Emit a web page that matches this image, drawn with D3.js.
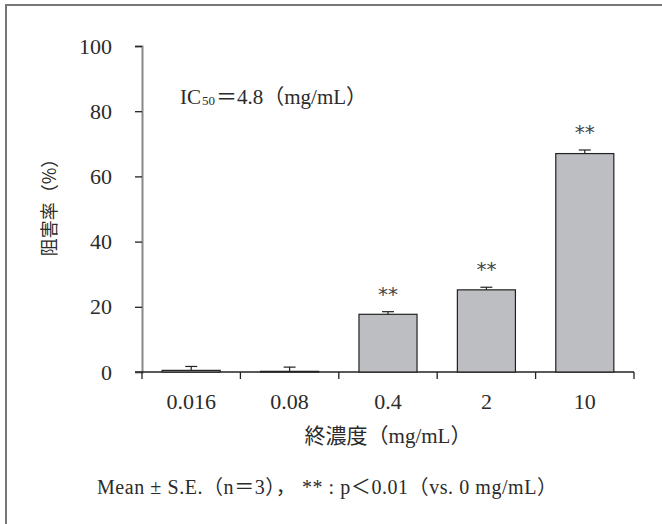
<!DOCTYPE html>
<html>
<head>
<meta charset="utf-8">
<script src="https://cdn.jsdelivr.net/npm/d3@7"></script>
<style>
  body { margin: 0; background: #fff; }
</style>
</head>
<body>
<svg id="chart" width="662" height="524"></svg>
<script>
// concentrations (mg/mL), mean inhibition (%), standard error
const concs = ["0.016", "0.08", "0.4", "2", "10"];
const means = [0.5, 0.2, 17.7, 25.2, 67.0];
const errors = [1.2, 1.3, 0.8, 0.8, 1.1];
const signif = ["", "", "**", "**", "**"];
const yTicks = [0, 20, 40, 60, 80, 100];

const SERIF = "'Liberation Serif', 'Noto Sans CJK JP', serif";
const INK = "#2b2b2b";

const svg = d3.select("#chart");

// frame around the figure
svg.append("path")
    .attr("d", "M6,530 L6,5 L670,5")
    .attr("fill", "none")
    .attr("stroke", "#777")
    .attr("stroke-width", 2);

const x = d3.scaleBand()
    .domain(concs)
    .range([142, 634])
    .paddingInner(0.41)
    .paddingOuter(0.205);

const y = d3.scaleLinear()
    .domain([0, 100])
    .range([372, 46]);

// Y axis
const yAxis = svg.append("g")
    .attr("transform", "translate(142,0)")
    .call(d3.axisLeft(y).tickValues(yTicks).tickSize(7).tickPadding(23).tickFormat(d3.format("d")));
yAxis.select(".domain").attr("stroke", "#888").attr("stroke-width", 2);
yAxis.selectAll(".tick line").attr("stroke", "#222").attr("stroke-width", 1.3);
yAxis.selectAll(".tick text")
    .style("font-family", SERIF)
    .style("font-size", "22px")
    .attr("fill", INK);
yAxis.select(".tick:first-of-type line").remove();

// X axis
const band = d3.scaleBand().domain(concs).range([142, 634]);
const xAxis = svg.append("g")
    .attr("transform", "translate(0,372)");
xAxis.append("line")
    .attr("x1", 135).attr("x2", 634)
    .attr("stroke", "#222").attr("stroke-width", 1.3);
xAxis.selectAll("line.tk")
    .data(concs.concat(["end"]))
    .join("line")
    .attr("class", "tk")
    .attr("x1", (d, i) => i < concs.length ? band(d) : band.range()[1])
    .attr("x2", (d, i) => i < concs.length ? band(d) : band.range()[1])
    .attr("y1", 0).attr("y2", 7)
    .attr("stroke", "#222").attr("stroke-width", 1.3);
xAxis.selectAll("text")
    .data(concs)
    .join("text")
    .attr("x", d => x(d) + x.bandwidth() / 2)
    .attr("y", 37)
    .attr("text-anchor", "middle")
    .style("font-family", SERIF)
    .style("font-size", "22px")
    .attr("fill", INK)
    .text(d => d);

const data = concs.map((c, i) => ({ c: c, m: means[i], e: errors[i], s: signif[i] }));

// error bars
svg.append("g").selectAll("g")
    .data(data)
    .join("g")
    .each(function (d) {
        const g = d3.select(this);
        const cx = x(d.c) + x.bandwidth() / 2;
        g.append("line")
            .attr("x1", cx).attr("x2", cx)
            .attr("y1", y(d.m)).attr("y2", y(d.m + d.e))
            .attr("stroke", "#222").attr("stroke-width", 1.2);
        g.append("line")
            .attr("x1", cx - 6).attr("x2", cx + 6)
            .attr("y1", y(d.m + d.e)).attr("y2", y(d.m + d.e))
            .attr("stroke", "#222").attr("stroke-width", 1.2);
    });

// bars
svg.append("g").selectAll("rect")
    .data(data)
    .join("rect")
    .attr("x", d => x(d.c))
    .attr("y", d => y(d.m))
    .attr("width", x.bandwidth())
    .attr("height", d => y(0) - y(d.m))
    .attr("fill", "#bdbec2")
    .attr("stroke", "#222")
    .attr("stroke-width", 1.2);

// significance marks
svg.append("g").selectAll("text")
    .data(data.filter(d => d.s))
    .join("text")
    .attr("x", d => x(d.c) + x.bandwidth() / 2)
    .attr("y", d => y(d.m + d.e) - 11)
    .attr("text-anchor", "middle")
    .style("font-family", "'DejaVu Sans'")
    .style("font-size", "20px")
    .attr("fill", "#444")
    .text(d => d.s);

// IC50 note
const ic = svg.append("text")
    .attr("x", 180).attr("y", 104)
    .style("font-family", SERIF)
    .style("font-size", "21px")
    .attr("fill", INK);
ic.append("tspan").text("IC");
ic.append("tspan").style("font-size", "13px").attr("dx", 1).attr("dy", 1).text("50");
ic.append("tspan").attr("dy", -1).attr("dx", 1).text("＝4.8（mg/mL）");

// axis titles
svg.append("text")
    .attr("transform", "translate(56,203) rotate(-90)")
    .attr("text-anchor", "middle")
    .style("font-family", "'Noto Sans CJK JP'")
    .style("font-size", "18px")
    .attr("fill", INK)
    .text("阻害率（%）");

svg.append("text")
    .attr("x", 388).attr("y", 443)
    .attr("text-anchor", "middle")
    .style("font-family", SERIF)
    .style("font-size", "21px")
    .attr("fill", INK)
    .text("終濃度（mg/mL）");

svg.append("text")
    .attr("x", 97).attr("y", 494)
    .attr("textLength", 460)
    .attr("lengthAdjust", "spacing")
    .style("font-family", SERIF)
    .style("font-size", "20px")
    .attr("fill", INK)
    .text("Mean ±  S.E.（n＝3），  ** : p＜0.01（vs. 0 mg/mL）");
</script>
</body>
</html>
